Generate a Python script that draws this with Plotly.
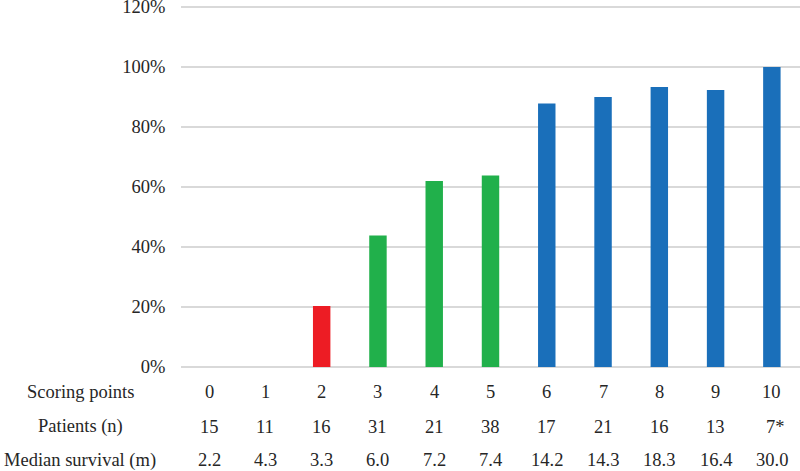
import plotly.graph_objects as go

scoring_points = ["0", "1", "2", "3", "4", "5", "6", "7", "8", "9", "10"]
survival_pct = [0, 0, 20.3, 43.8, 62.0, 63.8, 87.8, 90.0, 93.3, 92.3, 100.0]
bar_colors = ["#ED1C24", "#ED1C24", "#ED1C24", "#21B04B", "#21B04B", "#21B04B",
              "#1A6FBA", "#1A6FBA", "#1A6FBA", "#1A6FBA", "#1A6FBA"]
patients_n = ["15", "11", "16", "31", "21", "38", "17", "21", "16", "13", "7*"]
median_survival = ["2.2", "4.3", "3.3", "6.0", "7.2", "7.4", "14.2", "14.3", "18.3", "16.4", "30.0"]
row_labels = ["Scoring points", "Patients (n)", "Median survival (m)"]
y_ticks = [0, 20, 40, 60, 80, 100, 120]
y_tick_text = ["0%", "20%", "40%", "60%", "80%", "100%", "120%"]

FONT = "Liberation Serif"
TXT = "#262626"
FS = 18.5

fig = go.Figure()
fig.add_trace(go.Bar(
    x=scoring_points, y=survival_pct,
    marker=dict(color=bar_colors, line=dict(width=0)),
    width=0.31, hoverinfo="skip",
))

# plot area: left 181 .. 800, top 4 .. bottom 367 (pixels)
PLOT_H = 363.0
row_pix = [391.7, 426.7, 460.0]
row_y = [(367 - p) / PLOT_H for p in row_pix]
rows = [scoring_points, patients_n, median_survival]
label_x = (80 - 181) / (800 - 181)
anns = []
for ry, lab, vals in zip(row_y, row_labels, rows):
    anns.append(dict(x=label_x, xref="paper", y=ry, yref="paper", text=lab, showarrow=False,
                     xanchor="center", yanchor="middle",
                     font=dict(family=FONT, size=FS, color=TXT)))
    for i, v in enumerate(vals):
        shift = 4 if v.endswith("*") else 0
        anns.append(dict(x=i, xref="x", y=ry, yref="paper", text=v, showarrow=False,
                         xanchor="center", yanchor="middle", xshift=shift,
                         font=dict(family=FONT, size=FS, color=TXT)))

fig.update_layout(
    width=800, height=471,
    margin=dict(l=181, r=0, t=4, b=104, pad=0, autoexpand=False),
    paper_bgcolor="white", plot_bgcolor="white",
    showlegend=False,
    font=dict(family=FONT, size=FS, color=TXT),
    xaxis=dict(type="category", showticklabels=False, showgrid=False, zeroline=False,
               showline=False, ticks="", range=[-0.5, 10.5], automargin=False),
    yaxis=dict(range=[0, 121], tickvals=y_ticks, ticktext=y_tick_text,
               showgrid=True, gridcolor="#D9D9D9", gridwidth=1.5,
               zeroline=True, zerolinecolor="#D9D9D9", zerolinewidth=1.5,
               showline=False, ticks="outside", ticklen=11, tickcolor="rgba(0,0,0,0)",
               ticklabeloverflow="allow", automargin=False,
               tickfont=dict(family=FONT, size=FS, color=TXT)),
    annotations=anns,
)

fig.write_html("out.html", config={"displayModeBar": False},
               post_script="document.body.style.margin='0';")
